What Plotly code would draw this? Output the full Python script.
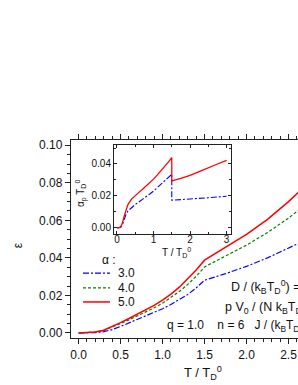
import plotly.graph_objects as go

# ---------------- data ----------------
T_main = [0.0, 0.1, 0.2, 0.3, 0.4, 0.5, 0.6, 0.7, 0.8, 0.9, 1.0, 1.1, 1.2, 1.3, 1.4, 1.5,
          1.75, 2.0, 2.25, 2.5, 2.75, 3.0]
eps_a3 = [0.0, 0.0, 0.0002, 0.0007, 0.0018, 0.0035, 0.0053, 0.0071, 0.0090, 0.0109, 0.0129,
          0.0152, 0.0177, 0.0205, 0.0240, 0.0281, 0.0316, 0.0355, 0.0400, 0.0450, 0.0505, 0.0562]
eps_a4 = [0.0, 0.0001, 0.0005, 0.0014, 0.0030, 0.0050, 0.0070, 0.0090, 0.0111, 0.0134, 0.0159,
          0.0188, 0.0221, 0.0259, 0.0302, 0.0352, 0.0408, 0.0468, 0.0535, 0.0612, 0.0700, 0.0795]
eps_a5 = [0.0, 0.0001, 0.0005, 0.0015, 0.0033, 0.0055, 0.0077, 0.0099, 0.0122, 0.0147, 0.0175,
          0.0207, 0.0244, 0.0287, 0.0335, 0.0388, 0.0455, 0.0525, 0.0605, 0.0700, 0.0805, 0.0920]
alpha_labels = ["3.0", "4.0", "5.0"]

T_inset = [0.0, 0.05, 0.1, 0.15, 0.2, 0.25, 0.3, 0.4, 0.5, 0.6, 0.7, 0.8, 0.9, 1.0, 1.1, 1.2,
           1.3, 1.4, 1.5, 1.5, 1.75, 2.0, 2.25, 2.5, 2.75, 3.0]
ap_a3 = [0.0, 0.0, 0.0002, 0.0020, 0.0055, 0.0085, 0.0105, 0.0128, 0.0146, 0.0162, 0.0177,
         0.0194, 0.0212, 0.0230, 0.0250, 0.0270, 0.0292, 0.0313, 0.0335, 0.0173, 0.0176,
         0.0180, 0.0184, 0.0188, 0.0193, 0.0198]
ap_a5 = [0.0, 0.0, 0.0005, 0.0030, 0.0075, 0.0115, 0.0145, 0.0180, 0.0203, 0.0222, 0.0241,
         0.0261, 0.0283, 0.0305, 0.0330, 0.0355, 0.0382, 0.0410, 0.0440, 0.0294, 0.0310,
         0.0328, 0.0352, 0.0378, 0.0400, 0.0423]

main_xticks = [0.0, 0.5, 1.0, 1.5, 2.0, 2.5, 3.0]
main_yticks = [0.00, 0.02, 0.04, 0.06, 0.08, 0.10]
inset_xticks = [0, 1, 2, 3]
inset_yticks = [0.00, 0.02, 0.04]

BLUE = "#0000FF"
GREEN = "#008000"
RED = "#FF0000"
FONT = "Arial"

fig = go.Figure()
fig.add_trace(go.Scatter(x=T_main, y=eps_a3, mode="lines", line=dict(color=BLUE, width=1.2, dash="6px,2px,2px,2px"),
                         showlegend=False, xaxis="x", yaxis="y"))
fig.add_trace(go.Scatter(x=T_main, y=eps_a4, mode="lines", line=dict(color=GREEN, width=1.2, dash="3px,2px"),
                         showlegend=False, xaxis="x", yaxis="y"))
fig.add_trace(go.Scatter(x=T_main, y=eps_a5, mode="lines", line=dict(color=RED, width=1.5),
                         showlegend=False, xaxis="x", yaxis="y"))
fig.add_trace(go.Scatter(x=T_inset, y=ap_a3, mode="lines", line=dict(color=BLUE, width=1.1, dash="6px,2px,2px,2px"),
                         showlegend=False, xaxis="x2", yaxis="y2"))
fig.add_trace(go.Scatter(x=T_inset, y=ap_a5, mode="lines", line=dict(color=RED, width=1.3),
                         showlegend=False, xaxis="x2", yaxis="y2"))

W, H = 298, 385
L, R, TOP, BOT = 71, 298, 140, 337.7
pw, ph = R - L, BOT - TOP


def px(xp):
    return (xp - L) / pw


def py(yp):
    return (BOT - yp) / ph


axis_common = dict(showgrid=False, zeroline=False, showline=True, linecolor="#222", linewidth=1.2,
                   ticks="outside", tickcolor="#222", tickwidth=1, color="#111")

fig.update_layout(
    width=W, height=H,
    margin=dict(l=L, r=0, t=TOP, b=H - BOT, pad=0),
    paper_bgcolor="white", plot_bgcolor="white",
    font=dict(family=FONT, size=12, color="#111"),
    showlegend=False,
    hovermode=False,
    xaxis=dict(axis_common, range=[-0.09, 2.613], tickvals=main_xticks,
               ticktext=[f"{v:.1f}" for v in main_xticks], ticklen=5, mirror="ticks",
               tickfont=dict(size=12, family=FONT),
               minor=dict(dtick=0.1, tick0=0, ticks="outside", ticklen=3, tickcolor="#222")),
    yaxis=dict(axis_common, range=[-0.00267, 0.1028], tickvals=main_yticks,
               ticktext=[f"{v:.2f}" for v in main_yticks], ticklen=5, mirror=False,
               tickfont=dict(size=12, family=FONT),
               minor=dict(dtick=0.005, tick0=0, ticks="outside", ticklen=3, tickcolor="#222")),
    xaxis2=dict(axis_common, domain=[px(114), px(231)], anchor="y2", range=[-0.08, 3.12],
                tickvals=inset_xticks, ticktext=[str(v) for v in inset_xticks], ticks="inside",
                ticklen=3, mirror="allticks", linewidth=1, tickfont=dict(size=10, family=FONT),
                ticklabelstandoff=-4,
                minor=dict(dtick=0.5, tick0=0, ticks="inside", ticklen=2, tickcolor="#222")),
    yaxis2=dict(axis_common, domain=[py(234), py(145)], anchor="x2", range=[-0.004, 0.0519],
                tickvals=inset_yticks, ticktext=[f"{v:.2f}" for v in inset_yticks], ticks="inside",
                ticklen=3, mirror="allticks", linewidth=1, tickfont=dict(size=10, family=FONT),
                minor=dict(dtick=0.01, tick0=0, ticks="inside", ticklen=2, tickcolor="#222")),
)

# inset white background
fig.add_shape(type="rect", xref="paper", yref="paper", x0=px(114), x1=px(231), y0=py(234), y1=py(145),
              fillcolor="white", line=dict(width=0), layer="below")

ann = []
TD = "T<sub>D</sub><sup>0</sup>"
ann.append(dict(x=px(203), y=py(373), text="T / " + TD, font=dict(size=13)))
ann.append(dict(x=px(18), y=py(245), text="ε", textangle=-90, font=dict(size=12)))
ann.append(dict(x=px(176), y=py(252), text="T / " + TD, font=dict(size=10)))
ann.append(dict(x=px(81), y=py(194), text="α<sub>p</sub> " + TD, textangle=-90, font=dict(size=10)))
ann.append(dict(x=px(100), y=py(260), text="α :", xanchor="left", font=dict(size=12)))
ann.append(dict(x=px(229), y=py(287), text="D / (k<sub>B</sub>" + TD + ") = 0.5", xanchor="left", font=dict(size=12.5)))
ann.append(dict(x=px(223), y=py(306.5), text="p V<sub>0</sub> / (N k<sub>B</sub>" + TD + ") = 0.0",
                xanchor="left", font=dict(size=12.5)))
ann.append(dict(x=px(165), y=py(325), text="q = 1.0    n = 6   J / (k<sub>B</sub>" + TD + ") = 1.0",
                xanchor="left", font=dict(size=12)))

leg_y = [273, 287.7, 301.7]
leg_styles = [dict(color=BLUE, width=1.2, dash="6px,2px,2px,2px"), dict(color=GREEN, width=1.2, dash="3px,2px"),
              dict(color=RED, width=1.5)]
for lab, yy, st in zip(alpha_labels, leg_y, leg_styles):
    fig.add_shape(type="line", xref="paper", yref="paper", x0=px(83), x1=px(110), y0=py(yy), y1=py(yy), line=st)
    ann.append(dict(x=px(116), y=py(yy), text=lab, xanchor="left", font=dict(size=12)))

for a in ann:
    a.setdefault("xref", "paper")
    a.setdefault("yref", "paper")
    a.setdefault("showarrow", False)
    a.setdefault("yanchor", "middle")
    a.setdefault("xanchor", "center")
fig.update_layout(annotations=ann)

fig.write_html("out.html", config={"displayModeBar": False, "staticPlot": True},
               post_script="document.body.style.margin='0';document.body.style.overflow='hidden';")
